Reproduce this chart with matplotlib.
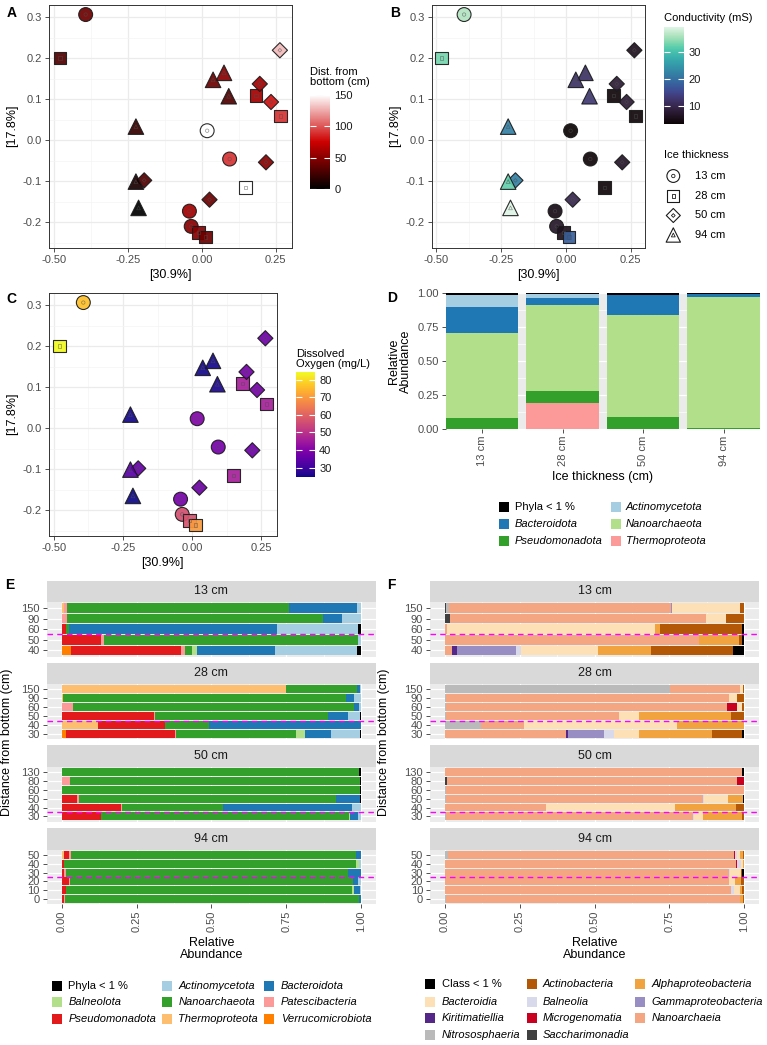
import numpy as np
import matplotlib
matplotlib.use("Agg")
import matplotlib.pyplot as plt
import seaborn as sns
from matplotlib.colors import LinearSegmentedColormap, Normalize
from matplotlib.cm import ScalarMappable
from matplotlib.patches import Rectangle
from matplotlib.ticker import MultipleLocator, FormatStrFormatter

plt.rcParams["font.family"] = ["Liberation Sans", "DejaVu Sans"]
plt.rcParams["axes.unicode_minus"] = False

# ---------------- PCoA samples (panels A-C) ----------------
thickness_levels = ["13 cm", "28 cm", "50 cm", "94 cm"]
ice_thickness = ["13 cm"] * 5 + ["28 cm"] * 6 + ["50 cm"] * 6 + ["94 cm"] * 6
dist_bottom = [150, 90, 60, 50, 40,
               150, 90, 60, 50, 40, 30,
               130, 80, 60, 50, 40, 30,
               50, 40, 30, 20, 10, 0]
pcoa1 = [0.018, 0.094, -0.042, -0.036, -0.393,
         0.148, 0.267, 0.183, -0.010, 0.012, -0.480,
         0.264, 0.234, 0.196, 0.217, 0.026, -0.195,
         0.075, 0.038, 0.091, -0.223, -0.223, -0.214]
pcoa2 = [0.023, -0.046, -0.173, -0.210, 0.306,
         -0.116, 0.059, 0.108, -0.224, -0.236, 0.200,
         0.219, 0.093, 0.137, -0.054, -0.145, -0.098,
         0.164, 0.147, 0.107, 0.033, -0.101, -0.165]
conductivity = [3.4, 4, 5, 7, 36,
                4, 4, 4, 6, 18, 33,
                6, 8, 8, 7, 10, 22,
                12, 12, 13, 22, 32, 39]
diss_oxygen = [40, 38, 38, 56, 76,
               46, 46, 46, 57, 70, 84,
               37, 38, 38, 37, 37, 36,
               25, 25, 26, 25, 34, 24.5]

# ---------------- panel D ----------------
d_thickness = ["13 cm", "28 cm", "50 cm", "94 cm"]
d_phyla = ["Phyla < 1 %", "Actinomycetota", "Bacteroidota",
           "Nanoarchaeota", "Pseudomonadota", "Thermoproteota"]
d_colors = ["#000000", "#A6CEE3", "#1F78B4", "#B2DF8A", "#33A02C", "#FB9A99"]
d_abundance = [
    [0.010, 0.007, 0.012, 0.004],
    [0.088, 0.025, 0.003, 0.003],
    [0.197, 0.054, 0.142, 0.018],
    [0.626, 0.634, 0.757, 0.965],
    [0.079, 0.091, 0.086, 0.010],
    [0.000, 0.189, 0.000, 0.000],
]

# ---------------- panel E (phyla per sample) ----------------
e_phyla = ["Phyla < 1 %", "Actinomycetota", "Bacteroidota", "Balneolota",
           "Nanoarchaeota", "Patescibacteria", "Pseudomonadota",
           "Thermoproteota", "Verrucomicrobiota"]
e_colors = ["#000000", "#A6CEE3", "#1F78B4", "#B2DF8A", "#33A02C",
            "#FB9A99", "#E31A1C", "#FDBF6F", "#FF7F00"]

dist_13cm = ["150", "90", "60", "50", "40"]
dist_28cm = ["150", "90", "60", "50", "40", "30"]
dist_50cm = ["130", "80", "60", "50", "40", "30"]
dist_94cm = ["50", "40", "30", "20", "10", "0"]
ice_cut = [2.5, 2.5, 1.5, 3.5]

e_13cm = [
    [0, 0.015, 0.225, 0, 0.743, 0.010, 0, 0.007, 0],
    [0, 0.063, 0.065, 0, 0.854, 0.018, 0, 0, 0],
    [0.009, 0.273, 0.694, 0, 0.011, 0, 0.013, 0, 0],
    [0, 0.011, 0, 0, 0.848, 0.009, 0.132, 0, 0],
    [0.015, 0.274, 0.260, 0.017, 0.023, 0.013, 0.367, 0, 0.031],
]
e_28cm = [
    [0, 0.005, 0.009, 0, 0.235, 0, 0, 0.751, 0],
    [0, 0.024, 0.027, 0, 0.944, 0, 0, 0.005, 0],
    [0, 0.006, 0.017, 0, 0.939, 0.038, 0, 0, 0],
    [0.003, 0.041, 0.067, 0, 0.576, 0.003, 0.310, 0, 0],
    [0, 0, 0.509, 0, 0.145, 0, 0.226, 0.120, 0],
    [0.003, 0.098, 0.086, 0.031, 0.400, 0.005, 0.361, 0, 0.016],
]
e_50cm = [
    [0.008, 0, 0, 0, 0.990, 0.002, 0, 0, 0],
    [0.005, 0, 0, 0, 0.967, 0.028, 0, 0, 0],
    [0.002, 0, 0, 0, 0.998, 0, 0, 0, 0],
    [0.003, 0, 0.081, 0, 0.858, 0.006, 0.052, 0, 0],
    [0, 0.029, 0.432, 0, 0.338, 0.002, 0.199, 0, 0],
    [0, 0.009, 0.027, 0.003, 0.829, 0, 0.132, 0, 0],
]
e_94cm = [
    [0, 0, 0.018, 0, 0.951, 0.008, 0.014, 0.009, 0],
    [0, 0.007, 0, 0.011, 0.973, 0.002, 0.007, 0, 0],
    [0, 0, 0.042, 0, 0.944, 0.007, 0.007, 0, 0],
    [0, 0.009, 0.017, 0, 0.947, 0.003, 0.024, 0, 0],
    [0, 0.003, 0.020, 0.008, 0.954, 0.002, 0.013, 0, 0],
    [0, 0, 0.006, 0, 0.983, 0.002, 0.009, 0, 0],
]

# ---------------- panel F (classes per sample) ----------------
f_classes = ["Class < 1 %", "Actinobacteria", "Alphaproteobacteria",
             "Bacteroidia", "Balneolia", "Gammaproteobacteria",
             "Kiritimatiellia", "Microgenomatia", "Nanoarchaeia",
             "Nitrososphaeria", "Saccharimonadia"]
f_colors = ["#000000", "#B35806", "#F1A340", "#FEE0B6", "#D8DAEB", "#998EC3",
            "#542788", "#CA0020", "#F4A582", "#BABABA", "#404040"]

f_13cm = [
    [0, 0.013, 0, 0.228, 0, 0.005, 0, 0, 0.741, 0.009, 0.004],
    [0, 0.062, 0, 0.065, 0, 0, 0, 0, 0.856, 0, 0.017],
    [0.008, 0.273, 0.016, 0.695, 0, 0, 0, 0, 0.008, 0, 0],
    [0.008, 0.009, 0.135, 0, 0, 0, 0, 0, 0.848, 0, 0],
    [0.038, 0.274, 0.177, 0.258, 0.017, 0.195, 0.017, 0, 0.024, 0, 0],
]
f_28cm = [
    [0, 0.006, 0, 0.007, 0, 0, 0, 0, 0.236, 0.751, 0],
    [0, 0.025, 0, 0.026, 0, 0, 0, 0, 0.945, 0.004, 0],
    [0, 0.007, 0, 0.018, 0, 0, 0, 0.034, 0.938, 0.003, 0],
    [0, 0.043, 0.309, 0.068, 0, 0, 0, 0, 0.578, 0.002, 0],
    [0, 0, 0.225, 0.511, 0, 0, 0, 0, 0.142, 0.122, 0],
    [0.008, 0.099, 0.245, 0.085, 0.033, 0.119, 0.008, 0, 0.403, 0, 0],
]
f_50cm = [
    [0.009, 0, 0, 0, 0, 0, 0, 0, 0.991, 0, 0],
    [0, 0, 0, 0, 0, 0, 0, 0.024, 0.970, 0, 0.006],
    [0, 0, 0, 0, 0, 0, 0, 0, 0.998, 0.002, 0],
    [0.005, 0, 0.049, 0.080, 0.004, 0, 0, 0, 0.858, 0.004, 0],
    [0, 0.028, 0.202, 0.434, 0, 0, 0, 0, 0.336, 0, 0],
    [0, 0.008, 0.130, 0.029, 0.004, 0, 0, 0, 0.827, 0.002, 0],
]
f_94cm = [
    [0, 0.005, 0.009, 0.011, 0.005, 0, 0, 0.006, 0.953, 0.011, 0],
    [0, 0, 0.005, 0.006, 0.012, 0, 0, 0.004, 0.973, 0, 0],
    [0.007, 0.003, 0, 0.039, 0.003, 0, 0, 0, 0.948, 0, 0],
    [0, 0.011, 0.020, 0.021, 0, 0, 0, 0, 0.948, 0, 0],
    [0, 0.007, 0.009, 0.018, 0.010, 0, 0, 0, 0.956, 0, 0],
    [0, 0.004, 0.009, 0, 0, 0, 0, 0, 0.985, 0.002, 0],
]

# ============================================================
W, H = 767, 1045
fig = plt.figure(figsize=(W / 100, H / 100), dpi=100)

# overlay in pixel coordinates for legends and panel letters
ov = fig.add_axes([0, 0, 1, 1])
ov.set_xlim(0, W)
ov.set_ylim(H, 0)
ov.axis("off")


def px_axes(l, t, r, b):
    return fig.add_axes([l / W, 1 - b / H, (r - l) / W, (b - t) / H])


TICK_C = "#4D4D4D"


def style_bw(ax):
    ax.set_facecolor("white")
    for s in ax.spines.values():
        s.set_color("#333333")
        s.set_linewidth(0.7)
    ax.xaxis.set_major_locator(MultipleLocator(0.25))
    ax.xaxis.set_minor_locator(MultipleLocator(0.125))
    ax.yaxis.set_major_locator(MultipleLocator(0.1))
    ax.yaxis.set_minor_locator(MultipleLocator(0.05))
    ax.xaxis.set_major_formatter(FormatStrFormatter("%.2f"))
    ax.yaxis.set_major_formatter(FormatStrFormatter("%.1f"))
    ax.grid(which="major", color="#EBEBEB", lw=0.9)
    ax.grid(which="minor", color="#F4F4F4", lw=0.5)
    ax.set_axisbelow(True)
    ax.tick_params(which="major", length=3, width=0.6, color="#333333",
                   labelsize=8, labelcolor=TICK_C, pad=2)
    ax.tick_params(which="minor", length=0)
    ax.set_xlim(-0.518, 0.305)
    ax.set_ylim(-0.262, 0.33)
    ax.set_xlabel("[30.9%]", fontsize=9, labelpad=3)
    ax.set_ylabel("[17.8%]", fontsize=9, labelpad=3)


def style_grey(ax):
    ax.set_facecolor("#EBEBEB")
    for s in ax.spines.values():
        s.set_visible(False)
    ax.grid(which="major", color="white", lw=0.9)
    ax.grid(which="minor", color="white", lw=0.45)
    ax.set_axisbelow(True)
    ax.tick_params(which="major", length=3, width=0.6, color="#333333",
                   labelsize=8, labelcolor=TICK_C, pad=2)
    ax.tick_params(which="minor", length=0)


markers = {"13 cm": "o", "28 cm": "s", "50 cm": "D", "94 cm": "^"}
msize = {"o": 100, "s": 85, "D": 60, "^": 125}


def draw_pcoa(ax, values, cmap):
    x = np.array(pcoa1)
    y = np.array(pcoa2)
    v = np.array(values, dtype=float)
    norm = Normalize(v.min(), v.max())
    for lvl in thickness_levels:
        sel = np.array([t == lvl for t in ice_thickness])
        m = markers[lvl]
        ax.scatter(x[sel], y[sel], c=v[sel], cmap=cmap, norm=norm, marker=m,
                   s=msize[m], edgecolors="#1A1A1A", linewidths=0.8,
                   alpha=0.92, zorder=3)
        ax.scatter(x[sel], y[sel], marker=m, s=msize[m] * 0.06,
                   facecolors="none", edgecolors=(0.3, 0.3, 0.3, 0.6),
                   linewidths=0.5, zorder=4)
    return norm


def colorbar(box, cmap, norm, ticks, title, title_y):
    cax = px_axes(*box)
    cb = fig.colorbar(ScalarMappable(norm=norm, cmap=cmap), cax=cax, ticks=ticks)
    cb.outline.set_visible(False)
    cax.tick_params(direction="in", color="white", length=4, width=0.8,
                    left=True, right=True, labelsize=8, labelcolor="#1A1A1A",
                    pad=3)
    ov.text(box[0], title_y, title, fontsize=8, ha="left", va="bottom",
            linespacing=1.05)


# ---- A ----
cmap_dist = LinearSegmentedColormap.from_list("dist", ["#000000", "#CD0000", "#FFFFFF"])
axA = px_axes(48.7, 4.7, 292, 247.7)
style_bw(axA)
nA = draw_pcoa(axA, dist_bottom, cmap_dist)
colorbar((310, 94.7, 330, 189), cmap_dist, nA, [0, 50, 100, 150],
         "Dist. from\nbottom (cm)", 87)

# ---- B ----
cmap_cond = sns.color_palette("mako", as_cmap=True)
axB = px_axes(431.7, 4.7, 645, 247.7)
style_bw(axB)
nB = draw_pcoa(axB, conductivity, cmap_cond)
colorbar((664, 27, 684, 124), cmap_cond, nB, [10, 20, 30],
         "Conductivity (mS)", 23)

ov.text(664, 155, "Ice thickness", fontsize=8, ha="left", va="center")
for i, lvl in enumerate(thickness_levels):
    yy = [176, 196, 215.5, 235][i]
    m = markers[lvl]
    ov.scatter([673.3], [yy], marker=m, s=msize[m] * 0.85, facecolors="none",
               edgecolors="#1A1A1A", linewidths=0.8)
    ov.scatter([673.3], [yy], marker=m, s=msize[m] * 0.06, facecolors="none",
               edgecolors="#1A1A1A", linewidths=0.6)
    ov.text(695, yy, lvl, fontsize=8, ha="left", va="center")

# ---- C ----
cmap_do = plt.get_cmap("plasma")
axC = px_axes(48.7, 292.7, 276.7, 535.7)
style_bw(axC)
nC = draw_pcoa(axC, diss_oxygen, cmap_do)
colorbar((295.7, 372.5, 315, 477.3), cmap_do, nC, [30, 40, 50, 60, 70, 80],
         "Dissolved\nOxygen (mg/L)", 369)

# ---- D ----
axD = px_axes(445.7, 293.3, 760, 429)
style_grey(axD)
xs = np.arange(1, len(d_thickness) + 1)
bottom = np.zeros(len(d_thickness))
for j in range(len(d_phyla) - 1, -1, -1):
    vals = np.array(d_abundance[j])
    axD.bar(xs, vals, bottom=bottom, width=0.9, color=d_colors[j], linewidth=0)
    bottom += vals
axD.set_xlim(0.55, 4.45)
axD.set_ylim(0, 1)
axD.set_xticks(xs)
axD.set_xticklabels(d_thickness, rotation=90)
axD.yaxis.set_major_locator(MultipleLocator(0.25))
axD.yaxis.set_minor_locator(MultipleLocator(0.125))
axD.yaxis.set_major_formatter(FormatStrFormatter("%.2f"))
axD.xaxis.grid(False, which="both")
axD.set_xlabel("Ice thickness (cm)", fontsize=9, labelpad=3)
ov.text(400, 361, "Relative\nAbundance", rotation=90, fontsize=9, ha="center",
        va="center", multialignment="center", linespacing=1.1)


def legend_block(names, colors, italic_flags, key_x, text_x, rows_y, ncol):
    for i, (nm, col) in enumerate(zip(names, colors)):
        r, c = divmod(i, ncol)
        ov.add_patch(Rectangle((key_x[c] - 5, rows_y[r] - 5), 10, 10,
                               facecolor=col, edgecolor="none"))
        ov.text(text_x[c], rows_y[r], nm, fontsize=8, ha="left", va="center",
                style="italic" if italic_flags[i] else "normal")


legend_block(d_phyla, d_colors, [False] + [True] * 5,
             [504, 615.7], [515, 626], [507.3, 524, 540.5], 2)

# ---- E / F facets ----
strip_rows = [(580.7, 601.7), (662.7, 684.0), (745.3, 766.7), (828.3, 850.0)]
panel_rows = [(601.7, 656.7), (684.0, 739.3), (766.7, 821.7), (850.0, 904.0)]


def facet_bars(x0, x1, facets, colors):
    for k, (label, dists, rows) in enumerate(facets):
        st, sb = strip_rows[k]
        sax = px_axes(x0, st, x1, sb)
        sax.set_facecolor("#D9D9D9")
        sax.set_xticks([])
        sax.set_yticks([])
        for s in sax.spines.values():
            s.set_visible(False)
        sax.text(0.5, 0.5, label, ha="center", va="center", fontsize=9,
                 color="#1A1A1A", transform=sax.transAxes)

        pt, pb = panel_rows[k]
        ax = px_axes(x0, pt, x1, pb)
        style_grey(ax)
        rows = np.array(rows, dtype=float)
        n = len(dists)
        ypos = np.arange(n, 0, -1)
        left = np.zeros(n)
        for j in range(rows.shape[1] - 1, -1, -1):
            ax.barh(ypos, rows[:, j], left=left, height=0.9, color=colors[j],
                    linewidth=0)
            left += rows[:, j]
        ax.axhline(ice_cut[k], color="#FF00FF", lw=1.0, ls=(0, (4, 3)), zorder=5)
        ax.set_xlim(-0.05, 1.05)
        ax.set_ylim(0.4, n + 0.6)
        ax.set_yticks(ypos)
        ax.set_yticklabels(dists, fontsize=8)
        ax.xaxis.set_major_locator(MultipleLocator(0.25))
        ax.xaxis.set_minor_locator(MultipleLocator(0.125))
        ax.xaxis.set_major_formatter(FormatStrFormatter("%.2f"))
        if k < len(facets) - 1:
            ax.tick_params(axis="x", which="both", length=0, labelbottom=False)
        else:
            ax.tick_params(axis="x", labelrotation=90)
            ax.set_xlabel("Relative\nAbundance", fontsize=9, labelpad=3,
                          linespacing=1.0)


facet_bars(46.7, 376, [("13 cm", dist_13cm, e_13cm), ("28 cm", dist_28cm, e_28cm),
                       ("50 cm", dist_50cm, e_50cm), ("94 cm", dist_94cm, e_94cm)],
           e_colors)
facet_bars(430, 759.3, [("13 cm", dist_13cm, f_13cm), ("28 cm", dist_28cm, f_28cm),
                        ("50 cm", dist_50cm, f_50cm), ("94 cm", dist_94cm, f_94cm)],
           f_colors)

ov.text(7, 742, "Distance from bottom (cm)", rotation=90, fontsize=9,
        ha="center", va="center")
ov.text(384, 742, "Distance from bottom (cm)", rotation=90, fontsize=9,
        ha="center", va="center")

legend_block(e_phyla, e_colors, [False] + [True] * 8,
             [56.7, 166.7, 269.3], [68.3, 178.3, 281], [985.7, 1002.3, 1019], 3)
legend_block(f_classes, f_colors, [False] + [True] * 10,
             [430, 531.7, 640], [441.7, 542.7, 651.7],
             [984.3, 1001.7, 1018.3, 1035], 3)

# panel letters
for lab, (px, py) in {"A": (11.7, 13.3), "B": (395, 12.7), "C": (11.7, 299.3),
                      "D": (392, 298), "E": (10, 585), "F": (391.7, 585)}.items():
    ov.text(px, py, lab, fontsize=10, fontweight="bold", ha="center", va="center")

fig.savefig("out.png", dpi=100)
